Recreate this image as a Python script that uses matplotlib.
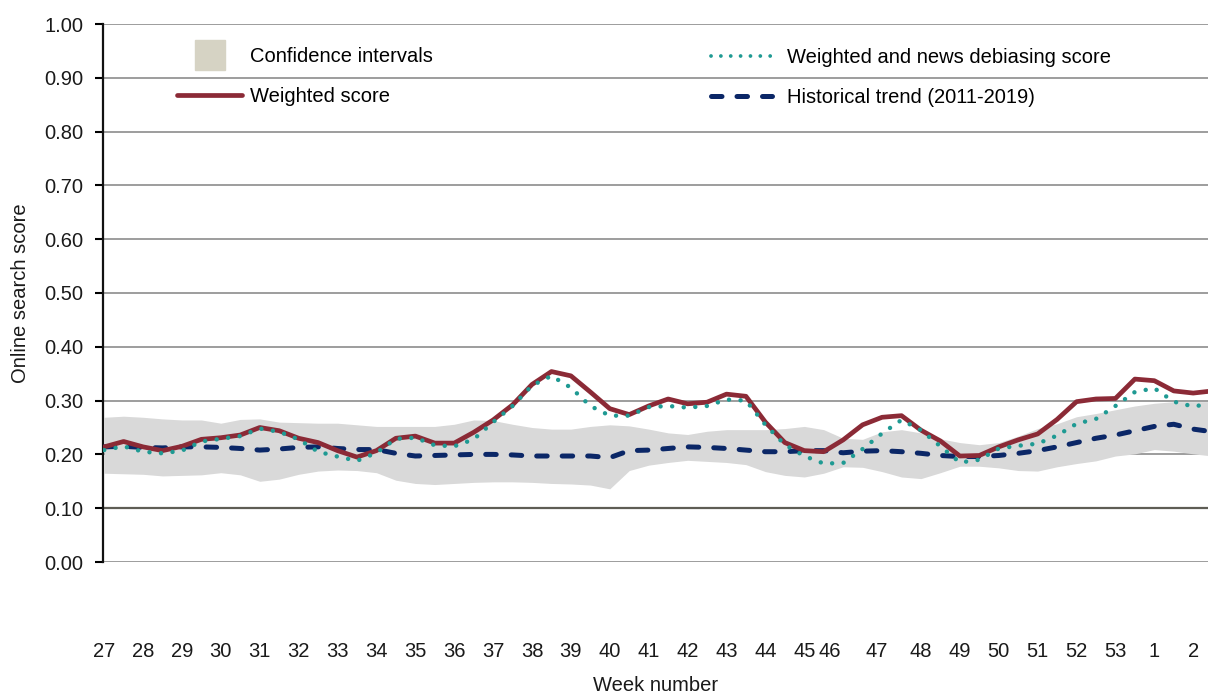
import numpy as np
import matplotlib
matplotlib.use("Agg")
import matplotlib.pyplot as plt
from matplotlib.lines import Line2D

plt.rcParams['font.family'] = ['Liberation Sans', 'DejaVu Sans']

# x position in weeks from week 27, half-week steps
x = np.arange(58) * 0.5

weighted = [0.214, 0.224, 0.214, 0.207, 0.215, 0.228, 0.231, 0.236, 0.250, 0.244,
            0.230, 0.222, 0.207, 0.195, 0.207, 0.230, 0.234, 0.221, 0.221, 0.241,
            0.264, 0.292, 0.330, 0.354, 0.346, 0.316, 0.285, 0.274, 0.290, 0.303,
            0.294, 0.297, 0.312, 0.308, 0.260, 0.222, 0.207, 0.205, 0.227, 0.255,
            0.269, 0.272, 0.245, 0.225, 0.197, 0.198, 0.214, 0.227, 0.238, 0.265,
            0.298, 0.303, 0.304, 0.340, 0.337, 0.318, 0.314, 0.318]

debiased = [0.208, 0.215, 0.205, 0.202, 0.207, 0.224, 0.229, 0.234, 0.248, 0.242,
            0.228, 0.205, 0.196, 0.188, 0.203, 0.229, 0.231, 0.217, 0.215, 0.228,
            0.260, 0.290, 0.328, 0.346, 0.324, 0.290, 0.272, 0.272, 0.288, 0.290,
            0.287, 0.290, 0.302, 0.300, 0.255, 0.218, 0.197, 0.183, 0.184, 0.210,
            0.239, 0.264, 0.245, 0.215, 0.185, 0.190, 0.211, 0.216, 0.220, 0.235,
            0.257, 0.266, 0.290, 0.316, 0.323, 0.298, 0.289, 0.295]

historical = [0.214, 0.215, 0.213, 0.212, 0.214, 0.214, 0.213, 0.211, 0.208, 0.210,
              0.213, 0.214, 0.211, 0.209, 0.209, 0.202, 0.197, 0.198, 0.199, 0.200,
              0.200, 0.199, 0.197, 0.197, 0.197, 0.197, 0.194, 0.207, 0.208, 0.211,
              0.214, 0.213, 0.211, 0.208, 0.205, 0.205, 0.207, 0.207, 0.203, 0.206,
              0.207, 0.205, 0.202, 0.198, 0.196, 0.196, 0.198, 0.202, 0.207, 0.214,
              0.222, 0.230, 0.236, 0.244, 0.252, 0.256, 0.247, 0.242]

ci_upper = [0.269, 0.271, 0.269, 0.266, 0.264, 0.264, 0.258, 0.265, 0.266, 0.260,
            0.259, 0.258, 0.258, 0.255, 0.252, 0.252, 0.252, 0.252, 0.256, 0.264,
            0.263, 0.256, 0.250, 0.247, 0.247, 0.252, 0.255, 0.253, 0.247, 0.240,
            0.237, 0.243, 0.246, 0.246, 0.246, 0.248, 0.252, 0.246, 0.230, 0.228,
            0.242, 0.246, 0.240, 0.229, 0.222, 0.218, 0.222, 0.234, 0.248, 0.257,
            0.270, 0.276, 0.283, 0.290, 0.295, 0.298, 0.298, 0.298]

ci_lower = [0.165, 0.164, 0.163, 0.160, 0.161, 0.162, 0.166, 0.162, 0.150, 0.154,
            0.163, 0.169, 0.171, 0.170, 0.166, 0.152, 0.146, 0.144, 0.146, 0.148,
            0.149, 0.149, 0.148, 0.146, 0.145, 0.143, 0.136, 0.170, 0.180, 0.185,
            0.189, 0.187, 0.185, 0.181, 0.168, 0.161, 0.158, 0.165, 0.177, 0.176,
            0.168, 0.158, 0.155, 0.166, 0.178, 0.178, 0.175, 0.170, 0.169, 0.177,
            0.183, 0.188, 0.197, 0.201, 0.209, 0.206, 0.201, 0.197]

week_labels = [str(w) for w in range(27, 54)] + ["1", "2"]
week_pos = list(range(19)) + [18.66, 19.87] + list(range(21, 29))

RED = "#8b2a36"
TEAL = "#1f9a93"
NAVY = "#0b2767"
FS = 14.5
LW_RED = 3.4
LW_TEAL = 3.2
LW_NAVY = 3.6
DOTS = (0, (0.01, 2.6))
DASHES = (0, (2.1, 3.0))

fig = plt.figure(figsize=(12.08, 6.93), dpi=100)
ax = fig.add_axes([103 / 1208, 1 - 562 / 693, 1105 / 1208, 538 / 693])

ax.fill_between(x, ci_lower, ci_upper, color="#d9d9d9", lw=0, zorder=1)
ax.plot(x, historical, color=NAVY, lw=LW_NAVY, ls=DASHES,
        dash_capstyle="round", zorder=3)
ax.plot(x, weighted, color=RED, lw=LW_RED, solid_capstyle="round",
        solid_joinstyle="round", zorder=4)
ax.plot(x, debiased, color=TEAL, lw=LW_TEAL, ls=DOTS,
        dash_capstyle="round", zorder=5)

for yv in np.arange(0, 1.01, 0.1):
    if abs(yv - 0.1) < 1e-6:
        ax.axhline(yv, color="#5e5d55", lw=1.6, zorder=2)
    else:
        ax.axhline(yv, color="#8c8c8c", lw=1.2, zorder=0)

ax.set_xlim(-0.03, 28.38)
ax.set_ylim(0, 1.0)
ax.set_yticks(np.arange(0, 1.01, 0.1))
ax.set_yticklabels([f"{v:.2f}" for v in np.arange(0, 1.01, 0.1)], fontsize=FS, color="#1a1a1a")
ax.set_xticks(week_pos)
ax.set_xticklabels(week_labels, fontsize=FS, color="#1a1a1a")
ax.tick_params(axis="x", length=0, pad=57.5)
ax.tick_params(axis="y", direction="out", length=5.8, width=1.5, pad=8.5)

for s in ["top", "right", "bottom"]:
    ax.spines[s].set_visible(False)
ax.spines["left"].set_linewidth(1.6)
ax.spines["left"].set_color("#111111")

ax.set_ylabel("Online search score", fontsize=FS, color="#1a1a1a")
ax.yaxis.set_label_coords(-0.066, 0.5)
ax.set_xlabel("Week number", fontsize=FS, color="#1a1a1a")
ax.xaxis.set_label_coords(0.5, -0.211)

h_ci = Line2D([], [], marker="s", markersize=22, color="#d6d3c4", ls="none")
h_w = Line2D([], [], color=RED, lw=LW_RED, solid_capstyle="round")
h_d = Line2D([], [], color=TEAL, lw=LW_TEAL * 0.85, ls=DOTS, dash_capstyle="round")
h_h = Line2D([], [], color=NAVY, lw=LW_NAVY, ls=DASHES, dash_capstyle="round")

leg1 = ax.legend([h_ci, h_w], ["Confidence intervals", "Weighted score"],
                 loc="upper left", bbox_to_anchor=(177 / 1208, 1 - 47 / 693),
                 bbox_transform=fig.transFigure, frameon=False, fontsize=FS,
                 handlelength=3.25, handletextpad=0.35, labelspacing=1.05,
                 borderpad=0, borderaxespad=0, numpoints=1)
ax.add_artist(leg1)
ax.legend([h_d, h_h], ["Weighted and news debiasing score", "Historical trend (2011-2019)"],
          loc="upper left", bbox_to_anchor=(711 / 1208, 1 - 48 / 693),
          bbox_transform=fig.transFigure, frameon=False, fontsize=FS,
          handlelength=3.05, handletextpad=0.7, labelspacing=1.05,
          borderpad=0, borderaxespad=0)

fig.savefig("out.png", dpi=100)
